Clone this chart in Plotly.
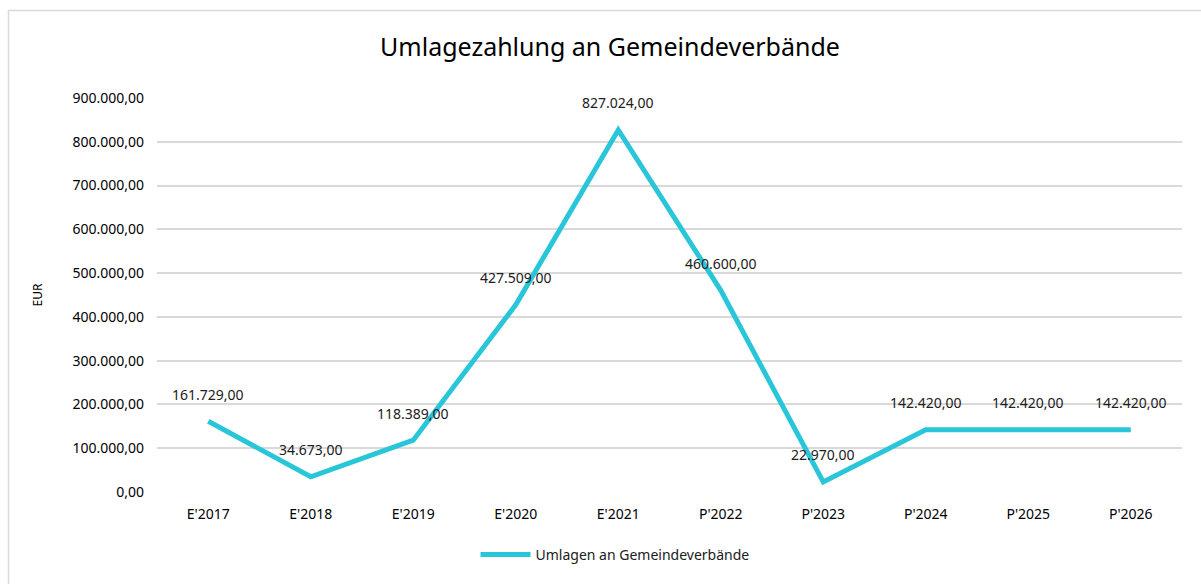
import plotly.graph_objects as go

categories = ["E'2017", "E'2018", "E'2019", "E'2020", "E'2021", "P'2022", "P'2023", "P'2024", "P'2025", "P'2026"]
values = [161729.00, 34673.00, 118389.00, 427509.00, 827024.00, 460600.00, 22970.00, 142420.00, 142420.00, 142420.00]
series_name = "Umlagen an Gemeindeverbände"
title = "Umlagezahlung an Gemeindeverbände"
y_title = "EUR"

def de_fmt(v):
    s = f"{v:,.2f}"
    return s.replace(",", "X").replace(".", ",").replace("X", ".")

W, H = 1201, 584
L, R, T, B = 157, 19, 98, 92
pw, ph = W - L - R, H - T - B

def px_x(p):
    return (p - L) / pw

def px_y(p):
    return (H - B - p) / ph

FONT = "Noto Sans"

fig = go.Figure()
fig.add_trace(go.Scatter(
    x=categories, y=values, mode="lines", name=series_name,
    line=dict(color="#29C6D9", width=5),
))

annotations = [
    dict(x=c, y=v, xref="x", yref="y", text=de_fmt(v), showarrow=False, yshift=27,
         font=dict(family=FONT, size=14, color="#202020"))
    for c, v in zip(categories, values)
]

fig.update_layout(
    width=W, height=H,
    margin=dict(l=L, r=R, t=T, b=B),
    paper_bgcolor="white", plot_bgcolor="white",
    separators=",.",
    title=dict(text=title, x=610 / W, xanchor="center", y=1 - 47 / H, yanchor="middle",
               font=dict(family=FONT, size=25, color="#000000")),
    xaxis=dict(range=[-0.5, len(categories) - 0.5], showgrid=False, showline=False, zeroline=False,
               ticks="", tickfont=dict(family=FONT, size=14, color="#000000"), ticklabelstandoff=12),
    yaxis=dict(range=[0, 900000], dtick=100000, tickformat=",.2f", showgrid=True, gridcolor="#D9D9D9",
               gridwidth=1.5, zeroline=False, showline=False, ticks="",
               tickfont=dict(family=FONT, size=14, color="#000000"), ticklabelstandoff=12,
               title=dict(text=y_title, font=dict(family=FONT, size=12, color="#000000"), standoff=27)),
    showlegend=True,
    legend=dict(orientation="h", x=px_x(615), xanchor="center", y=px_y(555), yanchor="middle",
                font=dict(family=FONT, size=14, color="#202020"),
                itemwidth=50),
    annotations=annotations,
    shapes=[dict(type="rect", xref="paper", yref="paper",
                 x0=px_x(8.5), x1=px_x(1215), y0=px_y(10.5), y1=px_y(620),
                 line=dict(color="#D9D9D9", width=1.5), fillcolor="rgba(0,0,0,0)", layer="below")],
)

fig.write_html("out.html", config={"displayModeBar": False},
               post_script="document.body.style.margin='0';")
